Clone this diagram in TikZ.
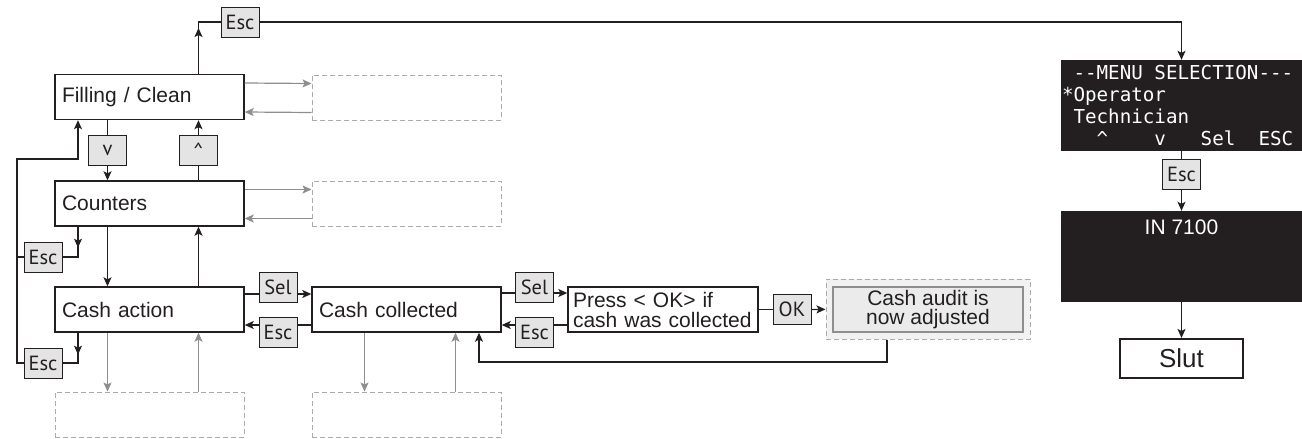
\documentclass[tikz,border=0pt]{standalone}
\usepackage{fontspec}
\setmainfont{Liberation Sans}
\setmonofont{DejaVu Sans Mono}
\newfontfamily\keyfont{PT Sans}
\usetikzlibrary{arrows.meta,positioning}
\definecolor{ink}{HTML}{231F20}
\definecolor{keyfill}{HTML}{E4E4E4}
\definecolor{ghost}{HTML}{8E8E8E}
\definecolor{ghostdash}{HTML}{ABABAB}
\definecolor{auditfill}{HTML}{F1F1F1}
\definecolor{auditinner}{HTML}{EBEBEB}

\begin{document}
\begin{tikzpicture}[x=1pt, y=-1pt,
    menubox/.style={draw=ink, line width=1.4pt, minimum width=189pt, minimum height=45pt, inner xsep=7pt, text width=175pt, align=left, text=ink, font=\fontsize{21}{20}\selectfont},
    keybox/.style={draw=ink, line width=1pt, fill=keyfill, minimum width=38pt, minimum height=30pt, inner sep=0pt, text=ink, font=\keyfont\fontsize{20.5}{20}\selectfont},
    ghostbox/.style={draw=ghostdash, line width=1pt, dash pattern=on 5pt off 3pt, minimum width=189pt, minimum height=45pt},
    lcdbox/.style={fill=ink, minimum width=241pt, minimum height=91pt, inner sep=0pt},
    conn/.style={ink, line width=1.2pt},
    arr/.style={conn, -{Stealth[length=9pt, width=8pt, inset=2pt]}},
    garr/.style={ghost, line width=1.2pt, -{Stealth[length=9pt, width=8pt, inset=2pt]}}]
    \useasboundingbox (0,0) rectangle (1302,439);

    % menu boxes
    \node[menubox] (filling) at (149.5,97) {Filling / Clean};
    \node[menubox] (count) at (149.5,203.5) {Counters};
    \node[menubox] (cash) at (149.5,309.5) {Cash action};
    \node[menubox] (coll) at (406.5,309.5) {Cash collected};
    \node[menubox, minimum width=190pt, text width=180pt, inner xsep=5pt] (press) at (663,309.5) {Press < OK> if\\cash was collected};
    \node[draw=ghostdash, fill=auditfill, line width=1pt, dash pattern=on 5pt off 3pt, minimum width=204pt, minimum height=60pt] (auditbg) at (928,309) {};
    \node[draw=ghost, fill=auditinner, line width=1.5pt, minimum width=190pt, minimum height=45pt, inner sep=0pt, align=center, text=ink, font=\fontsize{21}{19}\selectfont] (audit) at (928,309.5) {Cash audit is\\now adjusted};

    \node[ghostbox] (g1) at (406.5,97.5) {};
    \node[ghostbox] (g2) at (406.5,203.5) {};
    \node[ghostbox] (g3) at (149.5,414.5) {};
    \node[ghostbox] (g4) at (406.5,414.5) {};

    % keys
    \node[keybox] (escTop) at (240,22) {Esc};
    \node[keybox] (down) at (107.5,150.5) {v};
    \node[keybox] (up) at (198.5,150.5) {\textasciicircum};
    \node[keybox] (escA) at (43,257) {Esc};
    \node[keybox] (escB) at (43,363) {Esc};
    \node[keybox] (selA) at (278,287) {Sel};
    \node[keybox] (escC) at (278,332) {Esc};
    \node[keybox] (selB) at (534.5,287) {Sel};
    \node[keybox] (escD) at (534.5,332) {Esc};
    \node[keybox] (ok) at (792,309.5) {OK};
    \node[keybox] (escR) at (1181.5,174.5) {Esc};

    % display
    \node[lcdbox, text=white, align=left, text width=239pt, inner xsep=1pt, font=\ttfamily\fontsize{19.2}{21.7}\selectfont] (menu) at (1181.5,105.5)
        {\hphantom{-}-{}-MENU\hphantom{-}SELECTION-{}-{}-\\{*}Operator\\\hphantom{-}Technician\\\hphantom{---}\textasciicircum\hphantom{----}v\hphantom{---}Sel\hphantom{--}ESC};
    \node[lcdbox] (inbox) at (1181.5,256.5) {};
    \node[text=white, inner sep=0pt, anchor=base, font=\fontsize{21}{21}\selectfont] (intitle) at (1181.5,234) {IN 7100};
    \node[draw=ink, line width=2pt, minimum width=123pt, minimum height=39pt, text=ink, font=\fontsize{26}{26}\selectfont] (slut) at (1181.5,358.5) {Slut};

    % gray paths to the sub menus
    \foreach \a/\b in {filling/g1, count/g2} {
        \draw[garr] ([yshift=14pt]\a.east) -- ([yshift=14pt]\b.west);
        \draw[garr] ([yshift=-15pt]\b.west) -- ([yshift=-15pt]\a.east);
    }
    \foreach \a/\b in {cash/g3, coll/g4} {
        \draw[garr] ([xshift=-42pt]\a.south) -- ([xshift=-42pt]\b.north);
        \draw[garr] ([xshift=49pt]\b.north) -- ([xshift=49pt]\a.south);
    }

    % up and down
    \draw[conn] ([xshift=-42pt]filling.south) -- (down);
    \draw[arr] (down) -- ([xshift=-42pt]count.north);
    \draw[conn] ([xshift=49pt]count.north) -- (up);
    \draw[arr] (up) -- ([xshift=49pt]filling.south);
    \draw[arr] ([xshift=-42pt]count.south) -- ([xshift=-42pt]cash.north);
    \draw[arr] ([xshift=49pt]cash.north) -- ([xshift=49pt]count.south);

    % esc loop on the left
    \coordinate (loop) at (17,159);
    \draw[arr] ([xshift=-71.5pt]count.south) -- ++(0,21);
    \draw[conn] ([xshift=-71.5pt,yshift=-19pt]count.south) |- (escA);
    \draw[arr] ([xshift=-71.5pt]cash.south) -- ++(0,22);
    \draw[conn] ([xshift=-71.5pt,yshift=-20pt]cash.south) |- (escB);
    \draw[conn] (escA.west) -- (escA.west -| loop);
    \draw[arr] (escB.west) -| (loop) -| ([xshift=-71.5pt]filling.south);

    % cash row
    \draw[conn] (cash.east |- 0,294) -- (selA.west |- 0,294);
    \draw[arr] (selA.east |- 0,294) -- (coll.west |- 0,294);
    \draw[conn] (coll.west |- 0,325) -- (escC.east |- 0,325);
    \draw[arr] (escC.west |- 0,325) -- (cash.east |- 0,325);
    \draw[conn] (coll.east |- 0,293) -- (selB.west |- 0,293);
    \draw[arr] (selB.east |- 0,293) -- (press.west |- 0,293);
    \draw[conn] (press.west |- 0,325) -- (escD.east |- 0,325);
    \draw[arr] (escD.west |- 0,325) -- (coll.east |- 0,325);
    \draw[conn] (press) -- (ok);
    \draw[arr] (ok) -- (auditbg);
    \coordinate (back) at (479,362);
    \draw[arr] (auditbg.south -| 887,0) |- (back) -- (coll.south -| back);

    % exit to the display
    \coordinate (exitturn) at (198.5,22);
    \draw[arr] ([xshift=49pt]filling.north) -- ([yshift=-6pt]exitturn);
    \draw[conn] ([yshift=-8pt]exitturn) |- (escTop);
    \draw[arr] (escTop) -| (menu);
    \draw[conn] (menu) -- (escR);
    \draw[arr] (escR) -- (inbox);
    \draw[arr] (inbox) -- (slut);
\end{tikzpicture}
\end{document}
